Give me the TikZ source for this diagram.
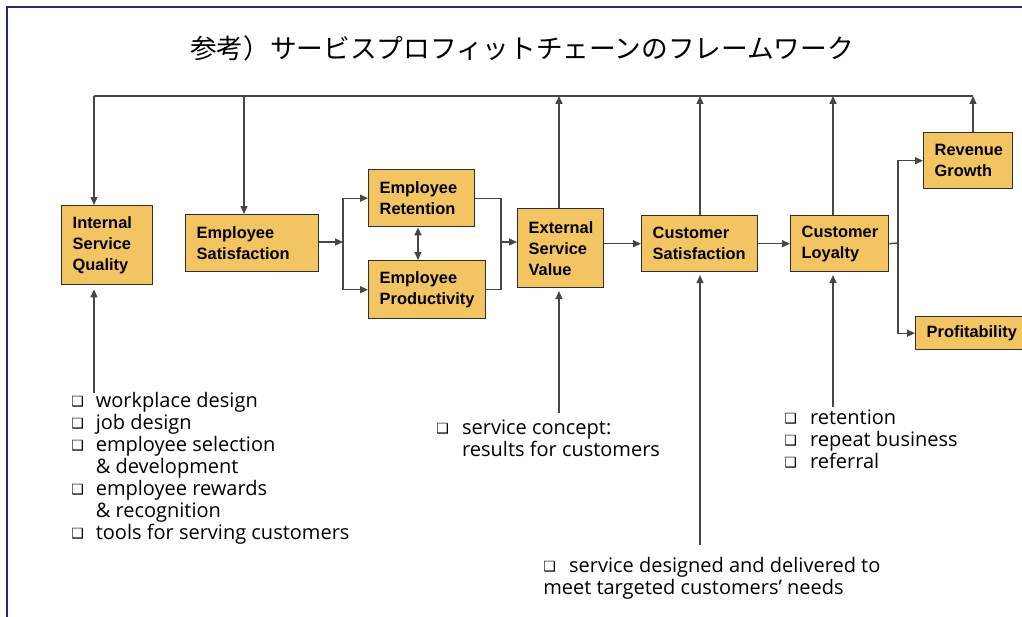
\documentclass[tikz,border=0pt]{standalone}
\usepackage{fontspec}
\setmainfont{Liberation Sans}
\newfontfamily\cjkfont{Noto Sans CJK JP}
\newfontfamily\listfont{Open Sans}
\newfontfamily\symfont{DejaVu Sans}
\usetikzlibrary{arrows.meta}
\newlength\pxl
\setlength\pxl{0.75pt}
\definecolor{boxfill}{RGB}{243,197,98}
\definecolor{boxline}{RGB}{45,45,45}
\definecolor{connline}{RGB}{70,70,70}
\definecolor{framecol}{RGB}{28,48,112}
\newcommand{\sqb}{{\symfont\fontsize{10.5pt}{10.5pt}\selectfont\raisebox{0.3pt}{❑}}}
\tikzset{
  box/.style={draw=boxline, line width=1.05pt, fill=boxfill, anchor=north west,
    inner xsep=8.25pt, inner ysep=0pt, align=left,
    font=\fontsize{12.3pt}{15.75pt}\selectfont\bfseries},
  conn/.style={draw=connline, line width=1.05pt},
  arr/.style={conn, -{Triangle[length=6pt,width=5.25pt]}},
  dblarr/.style={conn, {Triangle[length=6pt,width=5.25pt]}-{Triangle[length=6pt,width=5.25pt]}},
  listtxt/.style={inner sep=0pt, anchor=base west, align=left,
    font=\listfont\fontsize{15pt}{16.5pt}\selectfont},
  titletxt/.style={inner sep=0pt, font=\cjkfont\fontsize{20pt}{24pt}\selectfont},
  framestyle/.style={draw=framecol, line width=1.9pt}
}
\begin{document}
\begin{tikzpicture}[x=0.75pt,y=-0.75pt]
\useasboundingbox (0,0) rectangle (1022,617);
\coordinate (fa) at (1022,7);
\coordinate (fb) at (7,7);
\coordinate (fc) at (7,617);
\draw[framestyle] (fa) -- (fb) -- (fc);

\node[titletxt] (title) at (522,48) {参考）サービスプロフィットチェーンのフレームワーク};

% boxes
\node[box, minimum width=91\pxl, minimum height=79\pxl, text width=69\pxl] (isq) at (61,205) {Internal\\Service\\Quality};
\node[box, minimum width=133\pxl, minimum height=57\pxl, text width=111\pxl] (es) at (185,214) {Employee\\Satisfaction};
\node[box, minimum width=106\pxl, minimum height=57\pxl, text width=84\pxl] (er) at (368,169) {Employee\\Retention};
\node[box, minimum width=117\pxl, minimum height=58\pxl, text width=95\pxl] (ep) at (368,260) {Employee\\Productivity};
\node[box, minimum width=86\pxl, minimum height=79\pxl, text width=64\pxl] (esv) at (517,208) {External\\Service\\Value};
\node[box, minimum width=116\pxl, minimum height=56\pxl, text width=94\pxl] (cs) at (641,215) {Customer\\Satisfaction};
\node[box, minimum width=98\pxl, minimum height=56\pxl, text width=76\pxl] (cl) at (790,215) {Customer\\Loyalty};
\node[box, minimum width=89\pxl, minimum height=56\pxl, text width=67\pxl] (rg) at (923,132) {Revenue\\Growth};
\node[box, minimum width=108\pxl, minimum height=33\pxl, text width=86\pxl] (pr) at (915,316) {Profitability};

% top feedback line
\coordinate (tA) at (94,96);
\coordinate (tB) at (244,96);
\coordinate (tC) at (559,96);
\coordinate (tD) at (700,96);
\coordinate (tE) at (833,96);
\coordinate (tF) at (973,96);
\draw[conn] (tA) -- (tF);
\draw[arr] (tA) -- (isq.north -| tA);
\draw[arr] (tB) -- (es.north -| tB);
\draw[arr] (esv.north -| tC) -- (tC);
\draw[arr] (cs.north -| tD) -- (tD);
\draw[arr] (cl.north -| tE) -- (tE);
\draw[arr] (rg.north -| tF) -- (tF);

% main chain
\coordinate (f1) at (343,242);
\draw[arr] (es.east |- f1) -- (f1);
\draw[arr] (f1) |- (er.west);
\draw[arr] (f1) |- (ep.west);
\coordinate (m1) at (501,242);
\draw[conn] (er.east) -| (m1);
\draw[conn] (ep.east) -| (m1);
\draw[arr] (m1) -- (esv.west |- m1);
\coordinate (d1) at (418,243);
\draw[dblarr] (er.south -| d1) -- (ep.north -| d1);
\draw[arr] (esv.east |- cs.west) -- (cs.west);
\draw[arr] (cs.east) -- (cl.west);
\coordinate (f2) at (898,243);
\draw[conn] (cl.east) -- (f2);
\draw[arr] (f2) |- (rg.west);
\draw[arr] (f2) |- (pr.west);

% inputs from below
\coordinate (bA) at (94,393);
\coordinate (bC) at (559,413);
\coordinate (bD) at (700,545);
\coordinate (bE) at (833,407);
\draw[arr, shorten >=3pt] (bA) -- (isq.south -| bA);
\draw[arr, shorten >=2pt] (bC) -- (esv.south -| bC);
\draw[arr, shorten >=2pt] (bD) -- (cs.south -| bD);
\draw[arr, shorten >=2pt] (bE) -- (cl.south -| bE);

% lists
\node[listtxt] (l1) at (71,407) {\begin{tabular}[t]{@{}l@{\hspace{9pt}}l@{}}
\sqb & workplace design\\
\sqb & job design\\
\sqb & employee selection\\
 & \& development\\
\sqb & employee rewards\\
 & \& recognition\\
\sqb & tools for serving customers
\end{tabular}};
\node[listtxt] (l2) at (436,434) {\begin{tabular}[t]{@{}l@{\hspace{10pt}}l@{}}
\sqb & service concept:\\
 & results for customers
\end{tabular}};
\node[listtxt] (l3) at (784,424) {\begin{tabular}[t]{@{}l@{\hspace{10pt}}l@{}}
\sqb & retention\\
\sqb & repeat business\\
\sqb & referral
\end{tabular}};
\node[listtxt] (l4) at (543,572) {\begin{tabular}[t]{@{}l@{}}
\sqb\hspace{10pt}service designed and delivered to\\
meet targeted customers’ needs
\end{tabular}};
\end{tikzpicture}
\end{document}
